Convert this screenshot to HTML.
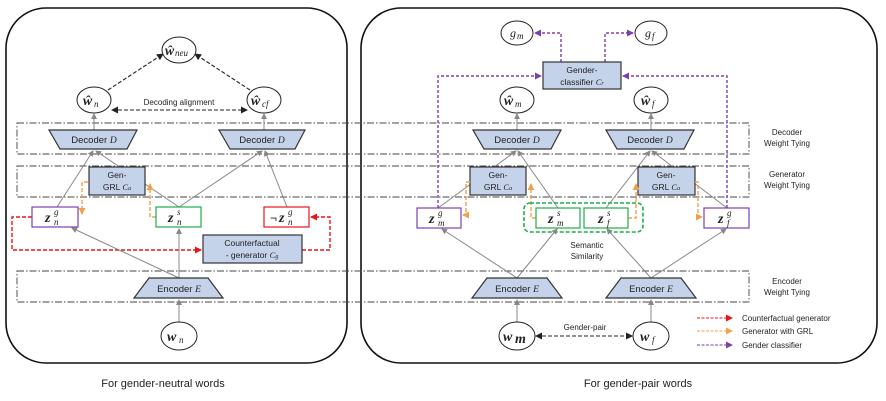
<!DOCTYPE html>
<html><head><meta charset="utf-8"><style>
html,body{margin:0;padding:0;background:#fff}
svg{display:block}
text{font-family:"Liberation Sans",sans-serif;fill:#222}
.m{font-family:"Liberation Serif",serif;font-style:italic;font-weight:bold;font-size:14px}
.s{font-family:"Liberation Serif",serif;font-style:italic;font-size:9px}
.mi{font-family:"Liberation Serif",serif;font-style:italic}
.box{fill:#c5d3ea;stroke:#333;stroke-width:1.2}
.band{fill:none;stroke:#444;stroke-width:0.9;stroke-dasharray:7,2,1.5,2}
.g{stroke:#888;stroke-width:1;fill:none}
.red{stroke:#e8141c;stroke-width:1.4;stroke-dasharray:4,2;fill:none}
.or{stroke:#f3a04c;stroke-width:1.4;stroke-dasharray:4,2;fill:none}
.pu{stroke:#7d3fb0;stroke-width:1.4;stroke-dasharray:3,2;fill:none}
.bk{stroke:#222;stroke-width:1.1;stroke-dasharray:4,2;fill:none}
</style></head><body>
<svg width="886" height="401" viewBox="0 0 886 401" xmlns="http://www.w3.org/2000/svg">
<defs>
<marker id="ag" markerWidth="6" markerHeight="6" refX="5" refY="3" orient="auto" markerUnits="userSpaceOnUse"><path d="M0,0 L6,3 L0,6z" fill="#888"/></marker>
<marker id="ar" markerWidth="7" markerHeight="7" refX="6" refY="3.5" orient="auto" markerUnits="userSpaceOnUse"><path d="M0,0 L7,3.5 L0,7z" fill="#e8141c"/></marker>
<marker id="ao" markerWidth="7" markerHeight="7" refX="6" refY="3.5" orient="auto" markerUnits="userSpaceOnUse"><path d="M0,0 L7,3.5 L0,7z" fill="#f3a04c"/></marker>
<marker id="ap" markerWidth="7" markerHeight="7" refX="6" refY="3.5" orient="auto" markerUnits="userSpaceOnUse"><path d="M0,0 L7,3.5 L0,7z" fill="#7d3fb0"/></marker>
<marker id="ak" markerWidth="7" markerHeight="7" refX="6" refY="3.5" orient="auto-start-reverse" markerUnits="userSpaceOnUse"><path d="M0,0 L7,3.5 L0,7z" fill="#222"/></marker>
</defs>

<rect x="6" y="8" width="341" height="355" rx="40" fill="none" stroke="#111" stroke-width="1.6"/>
<rect x="361" y="8" width="516" height="355" rx="40" fill="none" stroke="#111" stroke-width="1.6"/>

<rect class="band" x="17" y="123" width="732" height="31"/>
<rect class="band" x="17" y="166" width="732" height="31"/>
<rect class="band" x="17" y="271" width="732" height="31"/>
<text x="787" y="135" font-size="8" text-anchor="middle">Decoder</text>
<text x="787" y="146" font-size="8" text-anchor="middle">Weight Tying</text>
<text x="787" y="177" font-size="8" text-anchor="middle">Generator</text>
<text x="787" y="188" font-size="8" text-anchor="middle">Weight Tying</text>
<text x="787" y="284" font-size="8" text-anchor="middle">Encoder</text>
<text x="787" y="295" font-size="8" text-anchor="middle">Weight Tying</text>

<!-- LEFT -->
<line class="bk" x1="108" y1="90" x2="163" y2="54" marker-end="url(#ak)"/>
<line class="bk" x1="250" y1="90" x2="195" y2="54" marker-end="url(#ak)"/>
<line class="bk" x1="112" y1="110" x2="247" y2="110" marker-start="url(#ak)" marker-end="url(#ak)"/>
<text x="179" y="105" font-size="8" text-anchor="middle">Decoding alignment</text>
<ellipse cx="179" cy="50" rx="17" ry="13" fill="#fff" stroke="#222"/>
<text x="165" y="55" class="m" font-size="13">ŵ</text><text x="175" y="56" class="s">neu</text>
<ellipse cx="94" cy="100" rx="17" ry="13" fill="#fff" stroke="#222"/>
<text x="83" y="105" class="m">ŵ</text><text x="94" y="107" class="s" font-size="10">n</text>
<ellipse cx="264" cy="100" rx="17" ry="13" fill="#fff" stroke="#222"/>
<text x="251" y="105" class="m">ŵ</text><text x="262" y="107" class="s" font-size="10">cf</text>

<line class="g" x1="94" y1="130" x2="94" y2="114" marker-end="url(#ag)"/>
<line class="g" x1="264" y1="130" x2="264" y2="114" marker-end="url(#ag)"/>
<polygon class="box" points="49,130 137,130 127,149 60,149"/>
<text x="94" y="143" font-size="9.5" text-anchor="middle">Decoder <tspan class="mi">D</tspan></text>
<polygon class="box" points="219,130 305,130 295,149 230,149"/>
<text x="262" y="143" font-size="9.5" text-anchor="middle">Decoder <tspan class="mi">D</tspan></text>

<line class="g" x1="57" y1="207" x2="93" y2="151" marker-end="url(#ag)"/>
<line class="g" x1="179" y1="207" x2="96" y2="151" marker-end="url(#ag)"/>
<line class="g" x1="179" y1="207" x2="262" y2="151" marker-end="url(#ag)"/>
<line class="g" x1="287" y1="207" x2="265" y2="151" marker-end="url(#ag)"/>

<rect class="box" x="89" y="167" width="56" height="28"/>
<text x="117" y="178" font-size="8.5" text-anchor="middle">Gen-</text>
<text x="117" y="190" font-size="8.5" text-anchor="middle">GRL <tspan class="mi">C</tspan><tspan class="mi" font-size="6">a</tspan></text>

<path class="or" d="M88,182 L82,182 L82,214" marker-end="url(#ao)"/>
<path class="or" d="M156,217 L150,217 L150,184" marker-end="url(#ao)"/>

<path class="red" d="M32,217 L12,217 L12,250 L201,250" marker-end="url(#ar)"/>
<path class="red" d="M302,250 L330,250 L330,217 L311,217" marker-end="url(#ar)"/>

<rect x="32" y="207" width="46" height="20" fill="#fff" stroke="#7d3fb0" stroke-width="1.2"/>
<text x="45" y="222" class="m">z</text><text x="54" y="225" class="s">n</text><text x="54" y="215" class="s">g</text>
<rect x="156" y="207" width="45" height="20" fill="#fff" stroke="#1fae4a" stroke-width="1.2"/>
<text x="168" y="222" class="m">z</text><text x="177" y="225" class="s">n</text><text x="177" y="215" class="s">s</text>
<rect x="264" y="207" width="45" height="20" fill="#fff" stroke="#e8141c" stroke-width="1.2"/>
<text x="270" y="222" font-size="12">¬</text><text x="279" y="222" class="m">z</text><text x="288" y="225" class="s">n</text><text x="288" y="215" class="s">g</text>

<rect class="box" x="203" y="235" width="99" height="28"/>
<text x="252" y="246" font-size="8.5" text-anchor="middle">Counterfactual</text>
<text x="252" y="258" font-size="8.5" text-anchor="middle">- generator <tspan class="mi">C</tspan><tspan class="mi" font-size="6">g</tspan></text>

<line class="g" x1="179" y1="278" x2="72" y2="228" marker-end="url(#ag)"/>
<line class="g" x1="179" y1="278" x2="179" y2="229" marker-end="url(#ag)"/>
<polygon class="box" points="149,278 208,278 223,298 134,298"/>
<text x="179" y="292" font-size="9.5" text-anchor="middle">Encoder <tspan class="mi">E</tspan></text>
<line class="g" x1="179" y1="322" x2="179" y2="300" marker-end="url(#ag)"/>
<ellipse cx="179" cy="336" rx="18" ry="14" fill="#fff" stroke="#222"/>
<text x="167" y="341" class="m">w</text><text x="179" y="343" class="s" font-size="10">n</text>
<text x="163" y="387" font-size="11" text-anchor="middle">For gender-neutral words</text>

<!-- RIGHT -->
<ellipse cx="517" cy="33" rx="16" ry="12" fill="#fff" stroke="#222"/>
<text x="510" y="37" class="mi" font-size="12">g</text><text x="517" y="39" class="s">m</text>
<ellipse cx="651" cy="33" rx="16" ry="12" fill="#fff" stroke="#222"/>
<text x="645" y="37" class="mi" font-size="12">g</text><text x="652" y="39" class="s">f</text>
<path class="pu" d="M561,62 L561,33 L535,33" marker-end="url(#ap)"/>
<path class="pu" d="M605,62 L605,33 L633,33" marker-end="url(#ap)"/>
<path class="pu" d="M438,208 L438,76 L541,76" marker-end="url(#ap)"/>
<path class="pu" d="M727,208 L727,76 L623,76" marker-end="url(#ap)"/>
<rect class="box" x="543" y="62" width="78" height="27"/>
<text x="582" y="73" font-size="8.5" text-anchor="middle">Gender-</text>
<text x="582" y="85" font-size="8.5" text-anchor="middle">classifier <tspan class="mi">C</tspan><tspan class="mi" font-size="6">r</tspan></text>

<ellipse cx="517" cy="100" rx="17" ry="13" fill="#fff" stroke="#222"/>
<text x="504" y="105" class="m">ŵ</text><text x="515" y="107" class="s" font-size="10">m</text>
<ellipse cx="651" cy="100" rx="17" ry="13" fill="#fff" stroke="#222"/>
<text x="641" y="105" class="m">ŵ</text><text x="652" y="107" class="s" font-size="10">f</text>
<line class="g" x1="517" y1="130" x2="517" y2="114" marker-end="url(#ag)"/>
<line class="g" x1="651" y1="130" x2="651" y2="114" marker-end="url(#ag)"/>
<polygon class="box" points="473,130 561,130 551,149 484,149"/>
<text x="517" y="143" font-size="9.5" text-anchor="middle">Decoder <tspan class="mi">D</tspan></text>
<polygon class="box" points="606,130 694,130 684,149 617,149"/>
<text x="650" y="143" font-size="9.5" text-anchor="middle">Decoder <tspan class="mi">D</tspan></text>

<line class="g" x1="438" y1="208" x2="516" y2="151" marker-end="url(#ag)"/>
<line class="g" x1="558" y1="208" x2="518" y2="151" marker-end="url(#ag)"/>
<line class="g" x1="606" y1="208" x2="650" y2="151" marker-end="url(#ag)"/>
<line class="g" x1="727" y1="208" x2="652" y2="151" marker-end="url(#ag)"/>

<rect class="box" x="470" y="167" width="56" height="28"/>
<text x="498" y="178" font-size="8.5" text-anchor="middle">Gen-</text>
<text x="498" y="190" font-size="8.5" text-anchor="middle">GRL <tspan class="mi">C</tspan><tspan class="mi" font-size="6">a</tspan></text>
<rect class="box" x="638" y="167" width="57" height="28"/>
<text x="666" y="178" font-size="8.5" text-anchor="middle">Gen-</text>
<text x="666" y="190" font-size="8.5" text-anchor="middle">GRL <tspan class="mi">C</tspan><tspan class="mi" font-size="6">a</tspan></text>

<path class="or" d="M470,182 L466,182 L466,215 L463,215" marker-end="url(#ao)"/>
<path class="or" d="M536,218 L531,218 L531,184" marker-end="url(#ao)"/>
<path class="or" d="M628,218 L636,218 L636,184" marker-end="url(#ao)"/>
<path class="or" d="M695,182 L698,182 L698,217 L702,217" marker-end="url(#ao)"/>

<rect x="524" y="203" width="119" height="29" rx="6" fill="none" stroke="#1fae4a" stroke-width="1.6" stroke-dasharray="4,2"/>
<rect x="417" y="208" width="44" height="20" fill="#fff" stroke="#7d3fb0" stroke-width="1.2"/>
<text x="429" y="223" class="m">z</text><text x="438" y="226" class="s">m</text><text x="438" y="216" class="s">g</text>
<rect x="536" y="208" width="44" height="20" fill="#fff" stroke="#1fae4a" stroke-width="1.2"/>
<text x="548" y="223" class="m">z</text><text x="557" y="226" class="s">m</text><text x="557" y="216" class="s">s</text>
<rect x="584" y="208" width="44" height="20" fill="#fff" stroke="#1fae4a" stroke-width="1.2"/>
<text x="598" y="223" class="m">z</text><text x="607" y="226" class="s">f</text><text x="607" y="216" class="s">s</text>
<rect x="704" y="208" width="45" height="20" fill="#fff" stroke="#7d3fb0" stroke-width="1.2"/>
<text x="718" y="223" class="m">z</text><text x="727" y="226" class="s">f</text><text x="727" y="216" class="s">g</text>

<text x="587" y="248" font-size="8" text-anchor="middle">Semantic</text>
<text x="587" y="259" font-size="8" text-anchor="middle">Similarity</text>

<line class="g" x1="517" y1="278" x2="442" y2="229" marker-end="url(#ag)"/>
<line class="g" x1="517" y1="278" x2="557" y2="229" marker-end="url(#ag)"/>
<line class="g" x1="651" y1="278" x2="607" y2="229" marker-end="url(#ag)"/>
<line class="g" x1="651" y1="278" x2="726" y2="229" marker-end="url(#ag)"/>
<polygon class="box" points="487,278 547,278 562,298 472,298"/>
<text x="517" y="292" font-size="9.5" text-anchor="middle">Encoder <tspan class="mi">E</tspan></text>
<polygon class="box" points="621,278 681,278 696,298 606,298"/>
<text x="651" y="292" font-size="9.5" text-anchor="middle">Encoder <tspan class="mi">E</tspan></text>
<line class="g" x1="517" y1="322" x2="517" y2="300" marker-end="url(#ag)"/>
<line class="g" x1="651" y1="322" x2="651" y2="300" marker-end="url(#ag)"/>
<ellipse cx="517" cy="336" rx="18" ry="14" fill="#fff" stroke="#222"/>
<text x="503" y="341" class="m">w</text><text x="515" y="343" class="m" font-size="10">m</text>
<ellipse cx="651" cy="336" rx="18" ry="14" fill="#fff" stroke="#222"/>
<text x="640" y="341" class="m">w</text><text x="652" y="343" class="s" font-size="10">f</text>
<line class="bk" x1="536" y1="336" x2="632" y2="336" marker-start="url(#ak)" marker-end="url(#ak)"/>
<text x="585" y="330" font-size="8" text-anchor="middle">Gender-pair</text>

<line x1="697" y1="318" x2="732" y2="318" stroke="#e8141c" stroke-width="1" stroke-dasharray="3,1.5" marker-end="url(#ar)"/>
<line x1="697" y1="331" x2="732" y2="331" stroke="#f3a04c" stroke-width="1" stroke-dasharray="3,1.5" marker-end="url(#ao)"/>
<line x1="697" y1="345" x2="732" y2="345" stroke="#7d3fb0" stroke-width="1" stroke-dasharray="3,1.5" marker-end="url(#ap)"/>
<text x="742" y="321" font-size="8">Counterfactual generator</text>
<text x="742" y="334" font-size="8">Generator with GRL</text>
<text x="742" y="348" font-size="8">Gender classifier</text>

<text x="638" y="387" font-size="11" text-anchor="middle">For gender-pair words</text>
</svg>
</body></html>
